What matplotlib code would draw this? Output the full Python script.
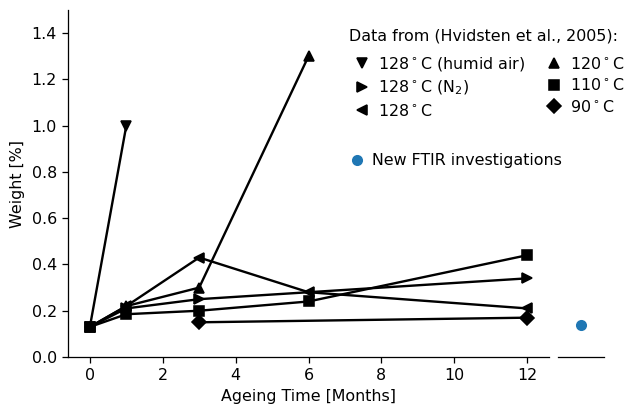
import matplotlib.pyplot as plt
from matplotlib.lines import Line2D

# Hvidsten et al., 2005 data (months, weight %)
humid_t = [0, 1]
humid_w = [0.13, 1.0]
n2_t = [0, 1, 3, 12]
n2_w = [0.13, 0.21, 0.25, 0.34]
c128_t = [0, 1, 3, 6, 12]
c128_w = [0.13, 0.22, 0.43, 0.28, 0.21]
c120_t = [0, 1, 3, 6]
c120_w = [0.13, 0.22, 0.30, 1.30]
c110_t = [0, 1, 3, 6, 12]
c110_w = [0.13, 0.185, 0.20, 0.24, 0.44]
c90_t = [3, 12]
c90_w = [0.15, 0.17]

ftir_x = [0]
ftir_w = [0.14]

series = [
    (humid_t, humid_w, 'v', r'128$^\circ$C (humid air)'),
    (n2_t, n2_w, '>', r'128$^\circ$C (N$_2$)'),
    (c128_t, c128_w, '<', r'128$^\circ$C'),
    (c120_t, c120_w, '^', r'120$^\circ$C'),
    (c110_t, c110_w, 's', r'110$^\circ$C'),
    (c90_t, c90_w, 'D', r'90$^\circ$C'),
]

dpi = 114
fig = plt.figure(figsize=(626 / dpi, 409 / dpi), dpi=dpi)
ax = fig.add_axes([68 / 626, 1 - 357 / 409, (549 - 68) / 626, (357 - 10) / 409])
ax2 = fig.add_axes([558 / 626, 1 - 357 / 409, (604 - 558) / 626, (357 - 10) / 409])

handles = []
for t, w, m, lab in series:
    ax.plot(t, w, color='black', marker=m)
    handles.append(Line2D([], [], color='black', marker=m, ls='none', label=lab))

ax.set_xlim(-0.6, 12.6)
ax.set_ylim(0, 1.5)
ax.set_yticks([0.0, 0.2, 0.4, 0.6, 0.8, 1.0, 1.2, 1.4])
ax.set_xticks([0, 2, 4, 6, 8, 10, 12])
ax.set_xlabel('Ageing Time [Months]')
ax.set_ylabel('Weight [%]')
ax.spines['top'].set_visible(False)
ax.spines['right'].set_visible(False)

ax2.plot(ftir_x, ftir_w, 'o', color='#1f77b4')
ax2.set_xlim(-0.5, 0.5)
ax2.set_ylim(0, 1.5)
ax2.set_xticks([])
ax2.set_yticks([])
for s in ['top', 'right', 'left']:
    ax2.spines[s].set_visible(False)

fig.text(349 / 626, 1 - 36 / 409, 'Data from (Hvidsten et al., 2005):',
         ha='left', va='center')
leg1 = fig.legend(handles=handles, ncol=2, frameon=False,
                  loc='upper left', bbox_to_anchor=(348 / 626, 1 - 49 / 409),
                  borderaxespad=0, handlelength=1.0, handletextpad=0.5,
                  columnspacing=1.3, labelspacing=0.35)
ftir_h = Line2D([], [], color='#1f77b4', marker='o', ls='none',
                label='New FTIR investigations')
leg2 = fig.legend(handles=[ftir_h], frameon=False, loc='upper left',
                  bbox_to_anchor=(343 / 626, 1 - 147 / 409),
                  borderaxespad=0, handlelength=1.0, handletextpad=0.4)

fig.savefig('out.png', dpi=dpi)
